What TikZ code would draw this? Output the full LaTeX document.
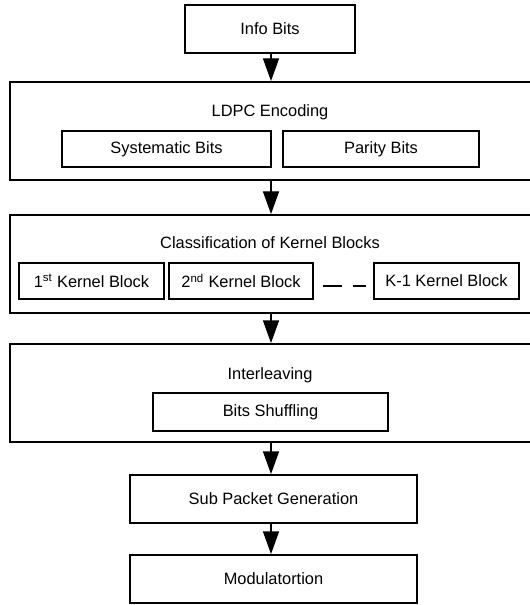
\documentclass[tikz,border=0pt]{standalone}
\usepackage{fontspec}
\setmainfont{Liberation Sans}
\usetikzlibrary{arrows.meta}

\begin{document}
\begin{tikzpicture}[x=0.75pt, y=-0.75pt,
    blk/.style={draw, line width=1.4pt, inner sep=0pt, font=\fontsize{12.3}{14}\selectfont},
    lbl/.style={inner sep=0pt, font=\fontsize{12.3}{14}\selectfont},
    arr/.style={line width=0.9pt, -{Triangle[width=12pt, length=17pt]}}]
    \useasboundingbox (0,0) rectangle (529,605);

    % Info bits
    \node[blk, minimum width=127.5pt, minimum height=36pt] (info) at (270,29) {Info Bits};

    % LDPC encoding
    \node[blk, minimum width=401.25pt, minimum height=73.5pt] (ldpc) at (277.5,131) {};
    \node[lbl] (ldpcl) at (270,112) {LDPC Encoding};
    \node[blk, minimum width=156.75pt, minimum height=27pt] (sys) at (166.5,149) {Systematic Bits};
    \node[blk, minimum width=147pt, minimum height=27pt] (par) at (381,149) {Parity Bits};

    % Kernel blocks
    \node[blk, minimum width=401.25pt, minimum height=73.5pt] (cls) at (277.5,264) {};
    \node[lbl] (clsl) at (270,243) {Classification of Kernel Blocks};
    \node[blk, minimum width=108.75pt, minimum height=27pt] (k1) at (91.5,281) {1\textsuperscript{st} Kernel Block};
    \node[blk, minimum width=108pt, minimum height=27pt] (k2) at (241,281) {2\textsuperscript{nd} Kernel Block};
    \node[blk, minimum width=108.75pt, minimum height=27pt] (kk) at (446.5,281) {K-1 Kernel Block};
    \draw[line width=1.4pt, dash pattern=on 14.25pt off 8.25pt] (323,286) -- (366,286);

    % Interleaving
    \node[blk, minimum width=401.25pt, minimum height=73.5pt] (intl) at (277.5,393) {};
    \node[lbl] (intll) at (270,375) {Interleaving};
    \node[blk, minimum width=176.25pt, minimum height=28.5pt] (shuf) at (270.5,412) {Bits Shuffling};

    % Sub packets and modulation
    \node[blk, minimum width=215.25pt, minimum height=36pt] (sub) at (273.5,499) {Sub Packet Generation};
    \node[blk, minimum width=215.25pt, minimum height=36pt] (mod) at (273.5,579) {Modulatortion};

    % Arrows
    \coordinate (axis) at (271,0);
    \draw[arr] (axis |- info.south) -- (axis |- ldpc.north);
    \draw[arr] (axis |- ldpc.south) -- (axis |- cls.north);
    \draw[arr] (axis |- cls.south) -- (axis |- intl.north);
    \draw[arr] (axis |- intl.south) -- (axis |- sub.north);
    \draw[arr] (axis |- sub.south) -- (axis |- mod.north);
\end{tikzpicture}
\end{document}
